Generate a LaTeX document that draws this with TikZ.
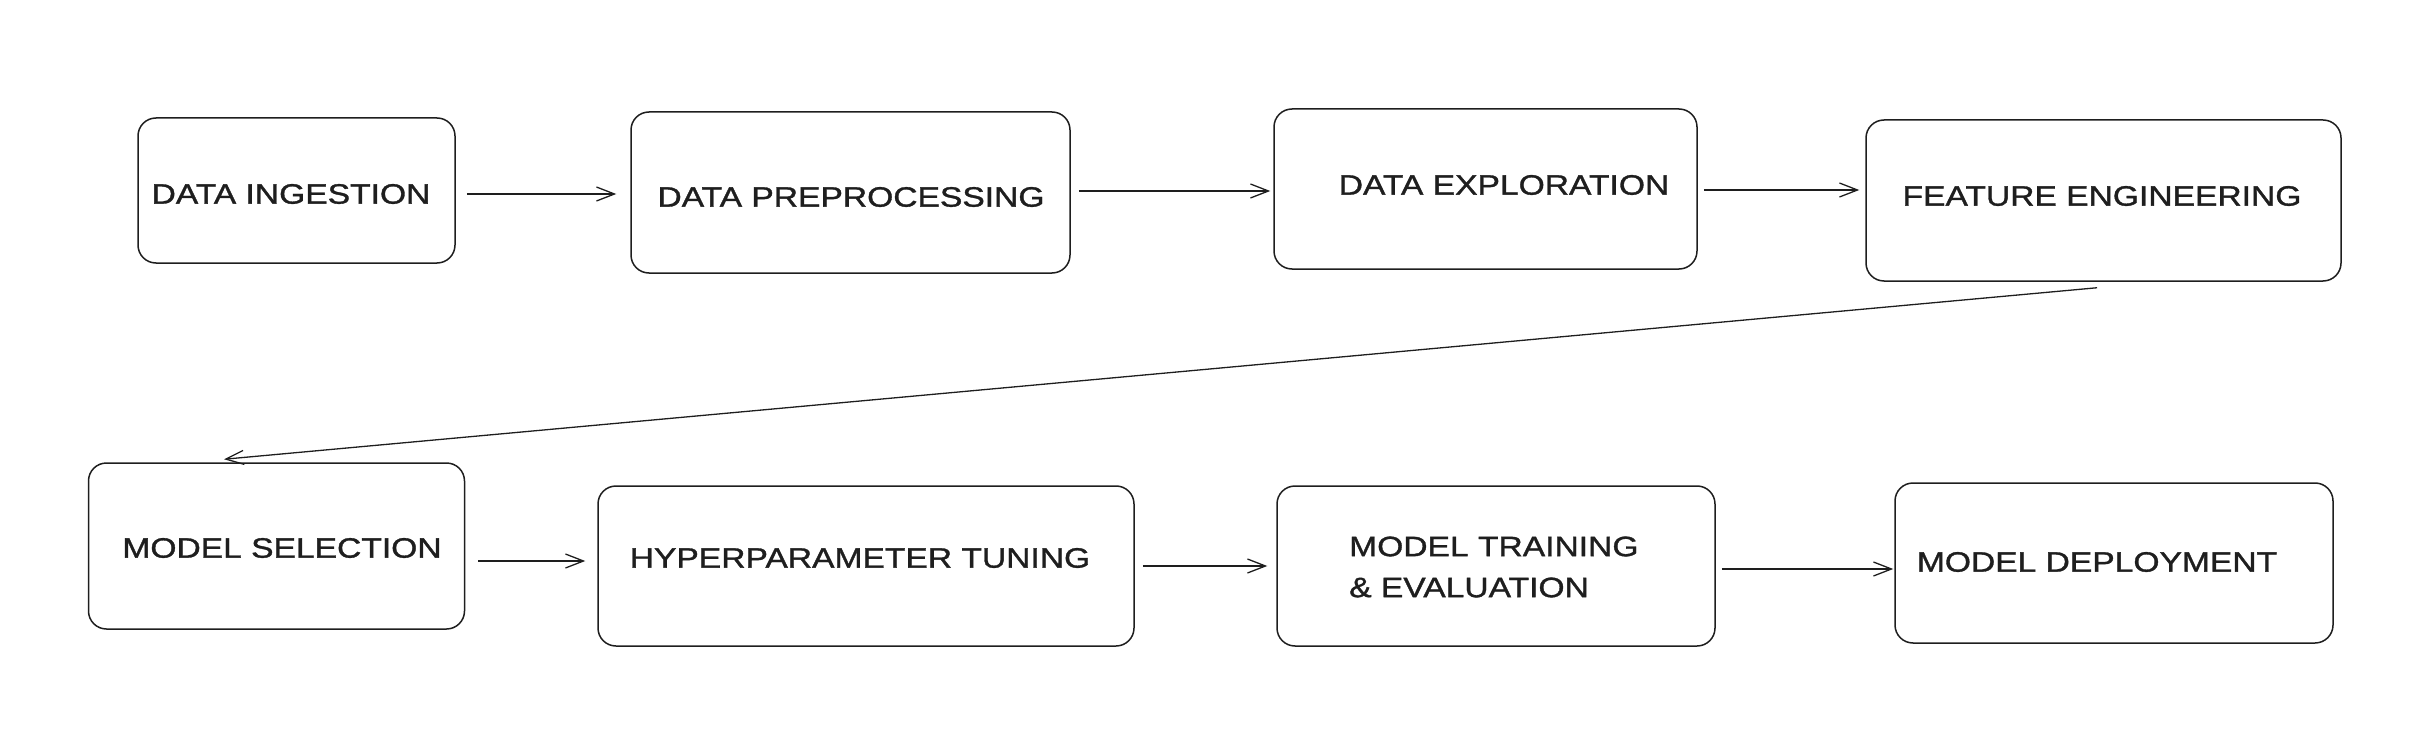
\documentclass[tikz,border=0pt]{standalone}
\usepackage{fontspec}
\newfontfamily\handfont[FakeStretch=1.2,FakeBold=1.2]{Liberation Sans}
\usetikzlibrary{arrows.meta}
\definecolor{ink}{HTML}{1E1E1E}
\tikzset{
  box/.style={draw=ink, line width=1.5pt, rounded corners=18pt, inner sep=0pt},
  lbl/.style={text=ink, font=\handfont\fontsize{28}{41}\selectfont, inner sep=0pt},
  arr/.style={draw=ink, line width=1.3pt, -{Straight Barb[length=18pt,width=14pt,line width=1.3pt]}}
}
\begin{document}
\begin{tikzpicture}[x=1pt,y=-1pt]
\useasboundingbox (0,0) rectangle (2436,746);
% boxes
\node[box, minimum width=317pt, minimum height=145pt] (b1) at (296.5,190.5) {};
\node[box, minimum width=439pt, minimum height=161pt] (b2) at (850.5,192.5) {};
\node[box, minimum width=423pt, minimum height=160pt] (b3) at (1485.5,189) {};
\node[box, minimum width=475pt, minimum height=161pt] (b4) at (2103.5,200.5) {};
\node[box, minimum width=376pt, minimum height=166pt] (b5) at (276.5,546) {};
\node[box, minimum width=536pt, minimum height=160pt] (b6) at (866,566) {};
\node[box, minimum width=438pt, minimum height=160pt] (b7) at (1496,566) {};
\node[box, minimum width=438pt, minimum height=160pt] (b8) at (2114,563) {};
% labels
\node[lbl] (t1) at (291,194) {DATA INGESTION};
\node[lbl] (t2) at (851,197) {DATA PREPROCESSING};
\node[lbl] (t3) at (1504,185) {DATA EXPLORATION};
\node[lbl] (t4) at (2102,196) {FEATURE ENGINEERING};
\node[lbl] (t5) at (282,548) {MODEL SELECTION};
\node[lbl] (t6) at (860,558) {HYPERPARAMETER TUNING};
\node[lbl, anchor=west, align=left] (t7) at (1349,567) {MODEL TRAINING\\\& EVALUATION};
\node[lbl] (t8) at (2097,562) {MODEL DEPLOYMENT};
% connectors
\draw[arr] ([shift={(11,3.5)}]b1.east) -- ([shift={(-14,1.5)}]b2.west);
\draw[arr] ([shift={(8,-1.5)}]b2.east) -- ([shift={(-3,2)}]b3.west);
\draw[arr] ([shift={(6,1)}]b3.east) -- ([shift={(-6,-10.5)}]b4.west);
\draw[arr] ([shift={(-6.5,6)}]b4.south) -- ([shift={(-52.5,-3)}]b5.north);
\draw[arr] ([shift={(13,15)}]b5.east) -- ([shift={(-12,-5)}]b6.west);
\draw[arr] ([shift={(8,0)}]b6.east) -- ([shift={(-9,0)}]b7.west);
\draw[arr] ([shift={(6,3)}]b7.east) -- ([shift={(-1,6)}]b8.west);
\end{tikzpicture}
\end{document}
